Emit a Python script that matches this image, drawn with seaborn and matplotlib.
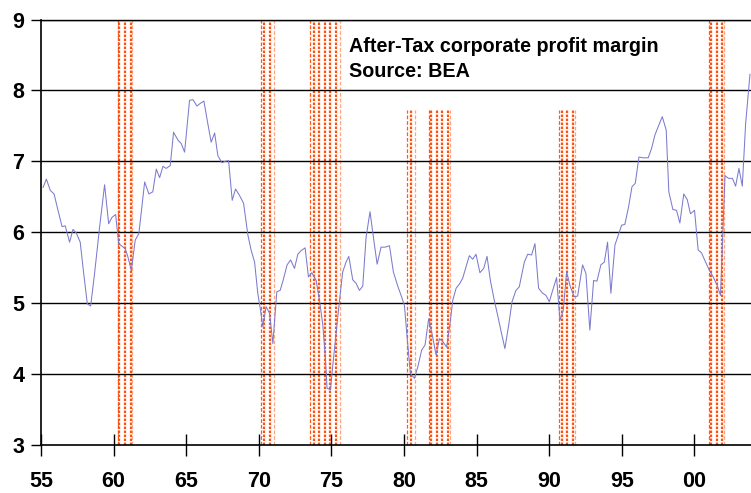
import numpy as np
import pandas as pd
import matplotlib
matplotlib.use("Agg")
import matplotlib.pyplot as plt
import seaborn as sns

# ---------------- data ----------------
years = [
    55.14, 55.37, 55.64, 55.90, 56.17, 56.45, 56.67, 56.97, 57.20, 57.43,
    57.70, 57.94, 58.19, 58.42, 58.69, 59.04, 59.38, 59.66, 59.89, 60.14,
    60.35, 60.60, 60.80, 60.99, 61.22, 61.49, 61.74, 62.14, 62.43, 62.70,
    62.94, 63.17, 63.40, 63.62, 63.90, 64.13, 64.43, 64.66, 64.89, 65.23,
    65.46, 65.74, 65.99, 66.22, 66.49, 66.72, 66.96, 67.18, 67.46, 67.68,
    67.92, 68.17, 68.40, 68.67, 68.95, 69.25, 69.47, 69.71, 69.93, 70.12,
    70.28, 70.50, 70.74, 70.97, 71.24, 71.47, 71.66, 71.95, 72.19, 72.46,
    72.69, 72.91, 73.19, 73.42, 73.65, 73.95, 74.18, 74.41, 74.59, 74.70,
    74.94, 75.10, 75.32, 75.56, 75.78, 76.01, 76.20, 76.47, 76.70, 76.93,
    77.16, 77.39, 77.66, 77.92, 78.15, 78.42, 78.70, 79.00, 79.27, 79.57,
    79.80, 80.03, 80.21, 80.44, 80.72, 80.95, 81.22, 81.45, 81.70, 81.93,
    82.21, 82.44, 82.67, 82.94, 83.17, 83.36, 83.59, 83.82, 84.04, 84.27,
    84.50, 84.73, 84.96, 85.23, 85.49, 85.72, 85.95, 86.22, 86.45, 86.68,
    86.95, 87.21, 87.44, 87.71, 87.94, 88.29, 88.52, 88.79, 89.02, 89.27,
    89.55, 89.78, 90.01, 90.24, 90.51, 90.74, 90.97, 91.20, 91.46, 91.73,
    91.96, 92.30, 92.53, 92.80, 93.06, 93.29, 93.56, 93.80, 94.02, 94.25,
    94.53, 94.76, 94.99, 95.21, 95.47, 95.70, 95.93, 96.18, 96.45, 96.82,
    97.05, 97.28, 97.55, 97.79, 98.06, 98.24, 98.52, 98.77, 99.00, 99.27,
    99.51, 99.73, 100.01, 100.26, 100.49, 100.77, 101.04, 101.30, 101.57, 101.80,
    102.11, 102.34, 102.62, 102.84, 103.07, 103.30, 103.53, 103.83,
]
margin = [
    6.63, 6.75, 6.59, 6.54, 6.31, 6.08, 6.09, 5.86, 6.04, 5.99,
    5.86, 5.42, 4.99, 4.96, 5.42, 6.08, 6.67, 6.12, 6.21, 6.25,
    5.84, 5.80, 5.77, 5.65, 5.46, 5.89, 5.98, 6.71, 6.54, 6.57,
    6.89, 6.77, 6.93, 6.90, 6.94, 7.41, 7.30, 7.25, 7.13, 7.86,
    7.87, 7.78, 7.82, 7.85, 7.53, 7.27, 7.40, 7.08, 6.98, 7.00,
    7.01, 6.45, 6.61, 6.52, 6.41, 5.96, 5.75, 5.58, 5.14, 4.90,
    4.67, 4.95, 4.86, 4.43, 5.16, 5.18, 5.31, 5.54, 5.61, 5.49,
    5.69, 5.74, 5.78, 5.37, 5.43, 5.32, 5.04, 4.69, 4.22, 3.80,
    3.78, 4.13, 4.57, 5.04, 5.44, 5.58, 5.66, 5.33, 5.28, 5.18,
    5.24, 5.93, 6.29, 5.89, 5.55, 5.79, 5.79, 5.81, 5.44, 5.24,
    5.11, 4.97, 4.53, 4.01, 3.94, 4.10, 4.34, 4.41, 4.78, 4.57,
    4.27, 4.50, 4.46, 4.38, 4.71, 5.04, 5.21, 5.27, 5.35, 5.51,
    5.67, 5.62, 5.69, 5.43, 5.49, 5.66, 5.32, 5.04, 4.83, 4.61,
    4.36, 4.69, 5.02, 5.18, 5.23, 5.58, 5.69, 5.68, 5.84, 5.21,
    5.14, 5.11, 5.02, 5.18, 5.36, 4.76, 4.90, 5.44, 5.23, 5.09,
    5.10, 5.54, 5.42, 4.62, 5.32, 5.31, 5.54, 5.58, 5.86, 5.14,
    5.82, 5.96, 6.10, 6.11, 6.36, 6.64, 6.69, 7.06, 7.05, 7.05,
    7.18, 7.37, 7.51, 7.63, 7.44, 6.57, 6.32, 6.31, 6.13, 6.54,
    6.46, 6.26, 6.31, 5.75, 5.71, 5.58, 5.46, 5.37, 5.25, 5.11,
    6.80, 6.76, 6.76, 6.65, 6.90, 6.65, 7.53, 8.23,
]
assert len(years) == len(margin)

rec_start = [60.30, 70.12, 73.53, 80.21, 81.70, 90.70, 101.04]
rec_end   = [61.26, 71.03, 75.56, 80.76, 83.17, 91.77, 102.03]
rec_top   = [9.0, 9.0, 9.0, 7.73, 7.73, 7.73, 9.0]

xticks = [55, 60, 65, 70, 75, 80, 85, 90, 95, 100]
xtick_labels = ["55", "60", "65", "70", "75", "80", "85", "90", "95", "00"]
yticks = [3, 4, 5, 6, 7, 8, 9]

title_lines = ["After-Tax corporate profit margin", "Source: BEA"]

# ---------------- style ----------------
sns.set_style("white")
plt.rcParams["font.family"] = ["Liberation Sans", "DejaVu Sans"]
plt.rcParams["text.color"] = "black"
plt.rcParams["xtick.color"] = "black"
plt.rcParams["ytick.color"] = "black"
plt.rcParams["xtick.labelcolor"] = "black"
plt.rcParams["ytick.labelcolor"] = "black"

W, H = 751, 493
fig = plt.figure(figsize=(W / 100, H / 100), dpi=100)
ax_left, ax_right, ax_top, ax_bot = 41, 751, 19.5, 445
ax = fig.add_axes([ax_left / W, (H - ax_bot) / H,
                   (ax_right - ax_left) / W, (ax_bot - ax_top) / H])

# recession bars: dotted columns with dashed edges
RED = "#FF500F"
px_per_year = (ax_right - ax_left) / (103.9 - 55)
count_step = 5.4 / px_per_year
col_gap = 5.6 / px_per_year
for s, e, t in zip(rec_start, rec_end, rec_top):
    ax.vlines([s], 3, t, colors="#FF5A1A", linewidth=0.9, linestyles=(0, (3, 1.5)), zorder=1)
    ax.vlines([e], 3, t, colors="#FFA47E", linewidth=0.9, linestyles=(0, (3, 1.5)), zorder=1)
    n = max(1, int(round((e - s) / count_step)))
    c = 0.5 * (s + e)
    xs = [c + (i - (n - 1) / 2) * col_gap for i in range(n)]
    ax.vlines(xs, 3, t, colors=RED, linewidth=1.6, linestyles=(0, (1.1, 0.7)), zorder=1)

df = pd.DataFrame({"year": years, "margin": margin})
sns.lineplot(data=df, x="year", y="margin", ax=ax, color="#7B7BCF",
             linewidth=0.75, zorder=3)

ax.set_xlim(55, 103.9)
ax.set_ylim(3, 9)
ax.set_xticks(xticks)
ax.set_xticklabels(xtick_labels)
ax.set_yticks(yticks)
ax.set_xlabel("")
ax.set_ylabel("")

for v in yticks[1:]:
    ax.axhline(v, color="black", linewidth=1.0, zorder=2)

ax.spines["right"].set_visible(False)
for side in ["left", "bottom", "top"]:
    ax.spines[side].set_color("black")
    ax.spines[side].set_linewidth(1.2)
ax.spines["top"].set_linewidth(1.0)

ax.tick_params(axis="x", direction="inout", length=16, width=1.0, color="black",
               labelsize=15.5, pad=11, bottom=True, labelcolor="black")
ax.tick_params(axis="y", direction="out", length=7, width=1.0, color="black",
               labelsize=15.5, pad=5, left=True, labelcolor="black")
for lab in ax.get_xticklabels() + ax.get_yticklabels():
    lab.set_fontweight("bold")

tx = (349 - ax_left) / (ax_right - ax_left)
ax.text(tx, (ax_bot - 51.7) / (ax_bot - ax_top), title_lines[0],
        transform=ax.transAxes, fontsize=14.2, fontweight="bold", color="black",
        va="baseline", ha="left", zorder=5)
ax.text(tx, (ax_bot - 76.7) / (ax_bot - ax_top), title_lines[1],
        transform=ax.transAxes, fontsize=14.2, fontweight="bold", color="black",
        va="baseline", ha="left", zorder=5)

fig.savefig("out.png", dpi=100)
